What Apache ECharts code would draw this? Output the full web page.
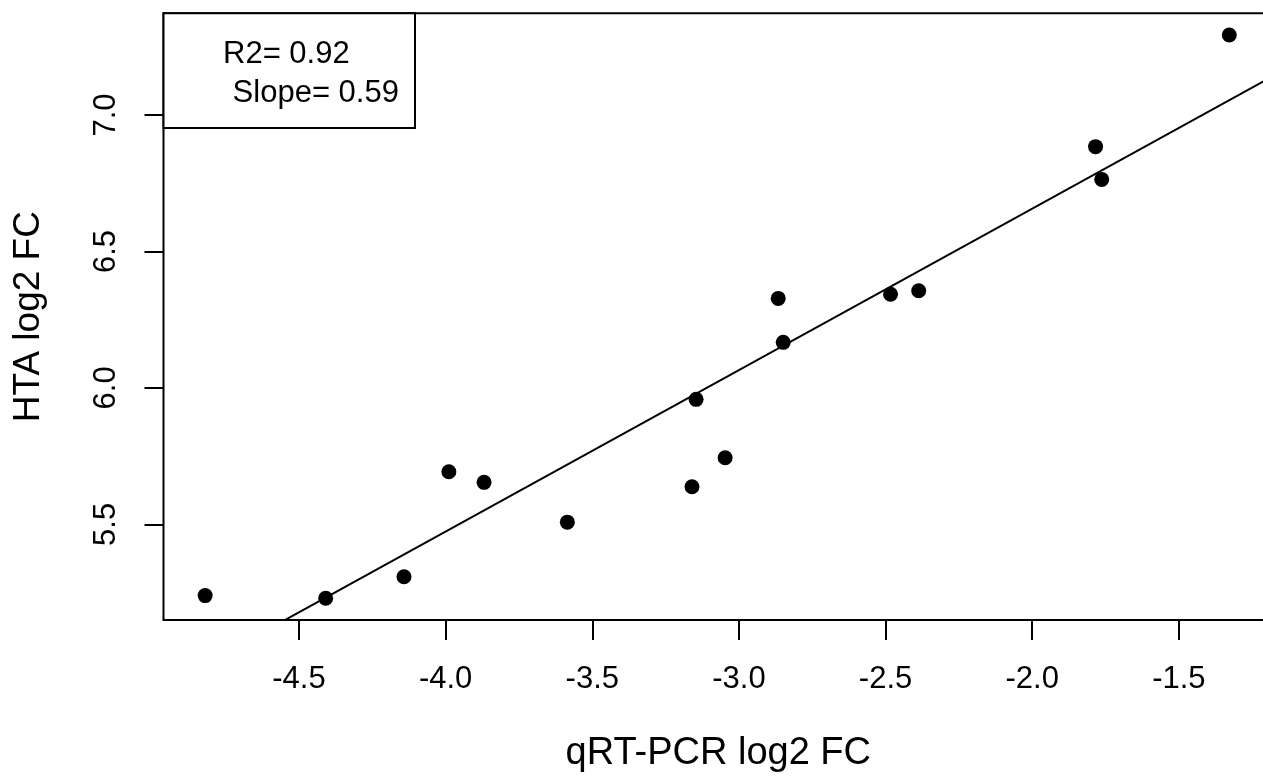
<!DOCTYPE html>
<html><head><meta charset="utf-8">
<script src="https://cdn.jsdelivr.net/npm/echarts@6/dist/echarts.min.js"></script>
<style>html,body{margin:0;padding:0;background:#fff}#c{width:1263px;height:778px}</style>
</head><body><div id="c"></div>
<script>
const qrtpcr = [-4.820, -4.409, -4.142, -3.989, -3.869, -3.585, -3.160, -3.146, -3.047, -2.866, -2.849, -2.483, -2.387, -1.784, -1.763, -1.328];
const hta    = [ 5.239,  5.229,  5.308,  5.693,  5.654,  5.508,  5.638,  5.958,  5.744,  6.328,  6.167,  6.343,  6.356,  6.884,  6.764,  7.293];
const xTicks = [-4.5, -4.0, -3.5, -3.0, -2.5, -2.0, -1.5];
const yTicks = [5.5, 6.0, 6.5, 7.0];
const fitSlope = 0.5915;
const fitIntercept = 7.8395;
const statsLines = ['R2= 0.92', ' Slope= 0.59'];
const xTitle = 'qRT-PCR log2 FC';
const yTitle = 'HTA log2 FC';

const xMin = -4.962, xMax = -1.179, yMin = 5.1495, yMax = 7.3727;
const FONT = "'Liberation Sans', Arial, sans-serif";

const points = qrtpcr.map((x, i) => [x, hta[i]]);
const fitLine = [xMin, xMax].map(x => [x, fitIntercept + fitSlope * x]);

const chart = echarts.init(document.getElementById('c'), null, {renderer: 'canvas'});
chart.setOption({
  animation: false,
  backgroundColor: '#fff',
  grid: {left: 163.5, top: 13.3, right: -10, bottom: 158, containLabel: false, outerBoundsMode: 'none',
         show: true, borderColor: '#000', borderWidth: 2, backgroundColor: 'transparent'},
  xAxis: {
    type: 'value', min: xMin, max: xMax,
    name: xTitle, nameLocation: 'middle', nameGap: 115,
    nameTextStyle: {fontFamily: FONT, fontSize: 38, color: '#000'},
    axisLine: {show: false},
    splitLine: {show: false},
    axisTick: {show: true, length: 20, lineStyle: {color: '#000', width: 2}, customValues: xTicks},
    axisLabel: {show: true, margin: 44, fontFamily: FONT, fontSize: 31, color: '#000', customValues: xTicks, formatter: v => v.toFixed(1)}
  },
  yAxis: {
    type: 'value', min: yMin, max: yMax,
    name: yTitle, nameLocation: 'middle', nameGap: 116, nameRotate: 90,
    nameTextStyle: {fontFamily: FONT, fontSize: 37, color: '#000'},
    axisLine: {show: false},
    splitLine: {show: false},
    axisTick: {show: true, length: 19, lineStyle: {color: '#000', width: 2}, customValues: yTicks},
    axisLabel: {show: true, rotate: 90, margin: 42, fontFamily: FONT, fontSize: 31, color: '#000', customValues: yTicks, formatter: v => v.toFixed(1)}
  },
  series: [
    {type: 'line', data: fitLine, symbol: 'none', clip: true, lineStyle: {color: '#000', width: 2}, z: 2},
    {type: 'scatter', data: points, symbol: 'circle', symbolSize: 15, itemStyle: {color: '#000', opacity: 1}, z: 3}
  ],
  graphic: [
    {type: 'rect', shape: {x: 163.5, y: 13.3, width: 251.5, height: 114.7}, style: {fill: '#fff', stroke: '#000', lineWidth: 2}, z: 10},
    {type: 'text', x: 223, y: 54, style: {text: statsLines[0], font: '31px ' + FONT, fill: '#000', textVerticalAlign: 'middle'}, z: 11},
    {type: 'text', x: 224, y: 93, style: {text: statsLines[1], font: '31px ' + FONT, fill: '#000', textVerticalAlign: 'middle'}, z: 11}
  ]
});
</script>
</body></html>
